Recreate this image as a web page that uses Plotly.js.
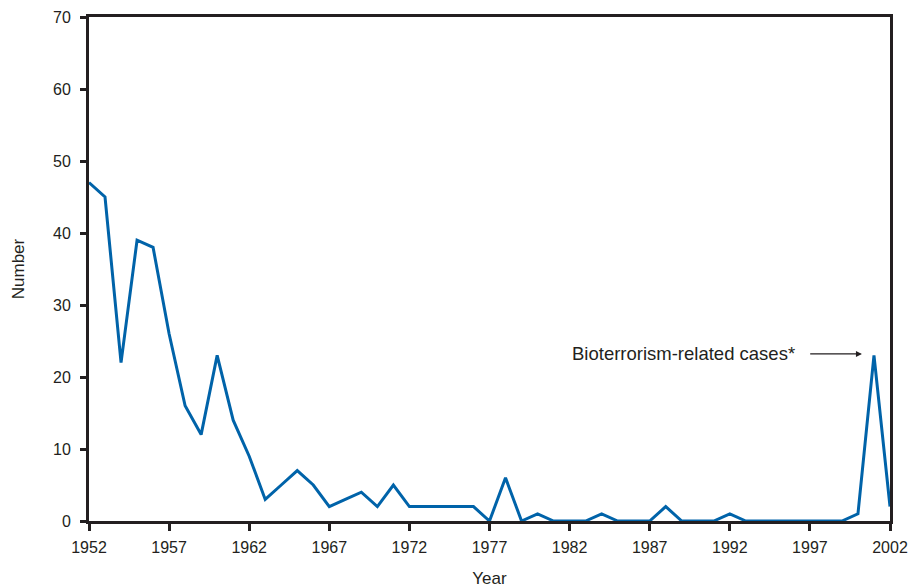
<!DOCTYPE html>
<html>
<head>
<meta charset="utf-8">
<script src="https://cdn.plot.ly/plotly-3.0.1.min.js"></script>
<style>html,body{margin:0;padding:0;background:#fff;}#chart{width:912px;height:588px;}</style>
</head>
<body>
<div id="chart"></div>
<script>
const years = [1952,1953,1954,1955,1956,1957,1958,1959,1960,1961,1962,1963,1964,1965,1966,1967,1968,1969,1970,1971,1972,1973,1974,1975,1976,1977,1978,1979,1980,1981,1982,1983,1984,1985,1986,1987,1988,1989,1990,1991,1992,1993,1994,1995,1996,1997,1998,1999,2000,2001,2002];
const cases = [47,45,22,39,38,26,16,12,23,14,9,3,5,7,5,2,3,4,2,5,2,2,2,2,2,0,6,0,1,0,0,0,1,0,0,0,2,0,0,0,1,0,0,0,0,0,0,0,1,23,2];
const xTicks = [1952,1957,1962,1967,1972,1977,1982,1987,1992,1997,2002];
const yTicks = [0,10,20,30,40,50,60,70];

const ink = '#231f20';
const fam = '"Liberation Sans", Arial, sans-serif';
const tickFont = {family: fam, size: 16, color: ink};
const titleFont = {family: fam, size: 17, color: ink};

const trace = {
  x: years, y: cases, type: 'scatter', mode: 'lines',
  line: {color: '#0063a9', width: 3},
  hoverinfo: 'skip'
};

const layout = {
  width: 912, height: 588,
  margin: {l: 89, r: 22, t: 17, b: 67},
  paper_bgcolor: '#fff', plot_bgcolor: '#fff',
  showlegend: false,
  font: tickFont,
  xaxis: {
    range: [1952, 2002], tickvals: xTicks, ticktext: xTicks.map(String),
    showgrid: false, zeroline: false,
    showline: true, linecolor: ink, linewidth: 3, mirror: true,
    ticks: 'outside', ticklen: 7, tickwidth: 3, tickcolor: ink,
    tickfont: tickFont, ticklabelstandoff: 3,
    title: {text: 'Year', font: titleFont, standoff: 18}
  },
  yaxis: {
    range: [0, 70], tickvals: yTicks,
    showgrid: false, zeroline: false,
    showline: true, linecolor: ink, linewidth: 3, mirror: true,
    ticks: 'outside', ticklen: 6, tickwidth: 3, tickcolor: ink,
    tickfont: tickFont, ticklabelstandoff: 6,
    title: {text: 'Number', font: titleFont, standoff: 25}
  },
  annotations: [
    {x: 1996.2, y: 23.2, xref: 'x', yref: 'y', text: 'Bioterrorism-related cases*',
     showarrow: false, xanchor: 'right', yanchor: 'middle',
     font: {family: fam, size: 18.5, color: ink}},
    {x: 2000.25, y: 23.2, xref: 'x', yref: 'y', text: ' ',
     showarrow: true, axref: 'x', ayref: 'y', ax: 1996.8, ay: 23.2,
     arrowhead: 2, arrowsize: 1, arrowwidth: 1.2, arrowcolor: ink, standoff: 0}
  ]
};

Plotly.newPlot('chart', [trace], layout, {staticPlot: true, displayModeBar: false});
</script>
</body>
</html>
